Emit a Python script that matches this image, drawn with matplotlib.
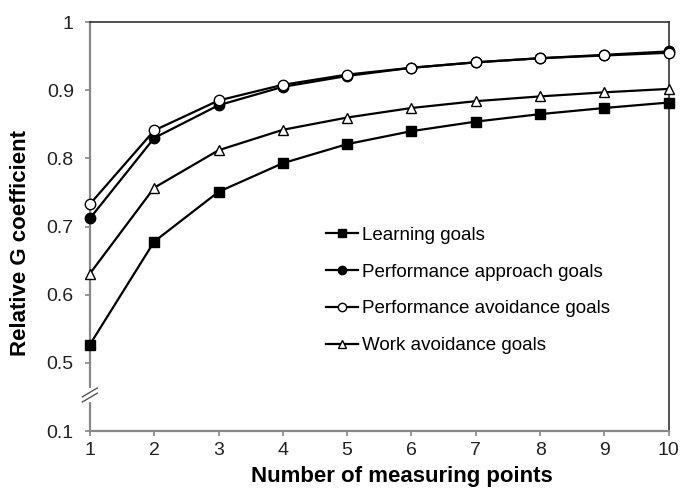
import matplotlib.pyplot as plt
import numpy as np

plt.rcParams["font.family"] = ["Liberation Sans", "DejaVu Sans"]

points = np.arange(1, 11)
learning = [0.527, 0.678, 0.751, 0.793, 0.821, 0.840, 0.854, 0.865, 0.874, 0.882]
perf_approach = [0.712, 0.830, 0.878, 0.905, 0.921, 0.933, 0.941, 0.947, 0.952, 0.957]
perf_avoid = [0.733, 0.841, 0.885, 0.908, 0.923, 0.933, 0.941, 0.947, 0.951, 0.955]
work_avoid = [0.631, 0.757, 0.812, 0.842, 0.860, 0.874, 0.884, 0.891, 0.897, 0.902]

# the axis is broken: label 0.1 sits one step below 0.5
ytick_pos = [0.4, 0.5, 0.6, 0.7, 0.8, 0.9, 1.0]
ytick_labels = ["0.1", "0.5", "0.6", "0.7", "0.8", "0.9", "1"]

fig = plt.figure(figsize=(6.81, 4.91), dpi=100)
ax = fig.add_axes([0.132, 0.122, 0.850, 0.833])

series = [
    (learning, "s", "black", "Learning goals"),
    (perf_approach, "o", "black", "Performance approach goals"),
    (perf_avoid, "o", "white", "Performance avoidance goals"),
    (work_avoid, "^", "white", "Work avoidance goals"),
]
for vals, marker, face, label in series:
    ax.plot(points, vals, color="black", lw=1.6, marker=marker, ms=7.5,
            mfc=face, mec="black", mew=1.0, label=label, clip_on=False, zorder=3)

ax.set_xlim(1, 10)
ax.set_ylim(0.4, 1.0)
ax.set_xticks(points)
ax.set_yticks(ytick_pos)
ax.set_yticklabels(ytick_labels)
ax.tick_params(axis="both", labelsize=14, colors="#888888", labelcolor="#222222",
               direction="out", length=3.6, width=1.2)
ax.tick_params(axis="y", pad=8)
ax.tick_params(axis="x", pad=4)

for side in ["left", "bottom"]:
    ax.spines[side].set_color("#888888")
    ax.spines[side].set_linewidth(1.6)
for side in ["top", "right"]:
    ax.spines[side].set_color("#333333")
    ax.spines[side].set_linewidth(1.2)

# axis break marks
brk = 0.453
ax.plot([0, 0], [brk - 0.007, brk + 0.007], transform=ax.get_yaxis_transform(),
        color="white", lw=3, clip_on=False, zorder=4)
for off in (-0.0038, 0.0038):
    ax.plot([-0.013, 0.013], [brk + off - 0.0065, brk + off + 0.0065],
            transform=ax.get_yaxis_transform(), color="#555555", lw=1.0,
            clip_on=False, zorder=5)

ax.set_xlabel("Number of measuring points", fontsize=16, fontweight="bold")
ax.set_ylabel("Relative G coefficient", fontsize=16, fontweight="bold")
ax.xaxis.set_label_coords(0.539, -0.085)
ax.yaxis.set_label_coords(-0.102, 0.46)

ax.legend(loc="upper left", bbox_to_anchor=(0.395, 0.518), frameon=False, fontsize=13.5,
          handlelength=1.7, handletextpad=0.2, labelspacing=1.05, borderaxespad=0,
          markerscale=0.8)

fig.savefig("out.png", dpi=100)
